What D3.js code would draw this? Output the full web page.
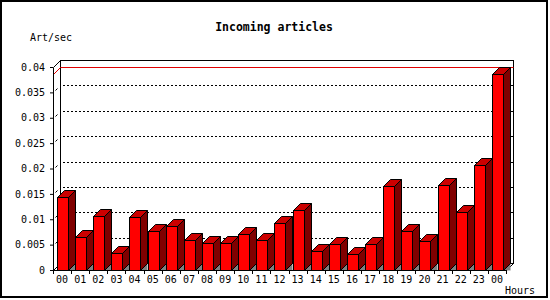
<!DOCTYPE html>
<html>
<head>
<meta charset="utf-8">
<script src="https://cdn.jsdelivr.net/npm/d3@7"></script>
<style>
    body { margin: 0; background: #fff; }
    text { font-family: "DejaVu Sans Mono", monospace; fill: #000; }
</style>
</head>
<body>
<svg id="chart"></svg>
<script>
const hours = ["00", "01", "02", "03", "04", "05", "06", "07", "08", "09", "10", "11",
               "12", "13", "14", "15", "16", "17", "18", "19", "20", "21", "22", "23", "00"];
const artPerSec = [0.0143, 0.0066, 0.0106, 0.0033, 0.0104, 0.0077, 0.0087, 0.0059, 0.0053, 0.0053, 0.0070, 0.0059,
                   0.0092, 0.0118, 0.0037, 0.0051, 0.0031, 0.0051, 0.0165, 0.0076, 0.0057, 0.0167, 0.0114, 0.0206, 0.0386];
const yTicks = [0, 0.005, 0.01, 0.015, 0.02, 0.025, 0.03, 0.035, 0.04];
const yTickLabels = ["0", "0.005", "0.01", "0.015", "0.02", "0.025", "0.03", "0.035", "0.04"];

class Bar3D {

    margin = { top: 67, right: 37, bottom: 30, left: 53 };
    depth = 7;

    constructor(svg) {
        this.svg = d3.select(svg);
        this.width = 550;
        this.height = 300;
    }

    initialize() {
        this.svg.attr("width", this.width).attr("height", this.height);

        this.x = d3.scaleBand()
            .domain(d3.range(hours.length))
            .range([this.margin.left, this.width - this.margin.right - this.depth])
            .padding(0);
        this.y = d3.scaleLinear()
            .domain([0, 0.04])
            .range([this.height - this.margin.bottom, this.margin.top]);

        this.draw();
    }

    draw() {
        const x = this.x, y = this.y, d = this.depth;
        const [x0, x1] = x.range();
        const base = y(0), top = y(0.04);
        const line = pts => "M" + pts.map(p => p.join(",")).join("L") + "Z";

        // frame
        this.svg.append("rect")
            .attr("x", 1).attr("y", 1).attr("width", 546).attr("height", 296)
            .attr("fill", "none").attr("stroke", "#000").attr("stroke-width", 2);

        // back wall
        this.svg.append("rect")
            .attr("x", x0 + d + .5).attr("y", top - d + .5)
            .attr("width", x1 - x0).attr("height", base - top)
            .attr("fill", "#fff").attr("stroke", "#000")
            .attr("shape-rendering", "crispEdges");

        // side wall edges
        this.svg.append("path")
            .attr("d", `M${x0 + .5},${top + .5}L${x0 + d + .5},${top - d + .5}`
                + `M${x0 + .5},${base + .5}L${x0 + d + .5},${base - d + .5}`
                + `M${x1 + .5},${base + .5}L${x1 + d + .5},${base - d + .5}`)
            .attr("stroke", "#000").attr("fill", "none");

        // dotted grid on the back wall
        const grid = yTicks.filter(v => v > 0 && v < 0.04);
        this.svg.append("g")
            .selectAll("line")
            .data(grid)
            .join("line")
            .attr("x1", x0 + d + 3).attr("x2", x1 + d)
            .attr("y1", v => Math.round(y(v)) - d + .5)
            .attr("y2", v => Math.round(y(v)) - d + .5)
            .attr("stroke", "#000")
            .attr("stroke-dasharray", "2,2")
            .attr("shape-rendering", "crispEdges");
        this.svg.append("g")
            .selectAll("path")
            .data(grid)
            .join("path")
            .attr("d", v => `M${x0 + 2.5},${Math.round(y(v)) - 1.5}L${x0 + 4.5},${Math.round(y(v)) - 3.5}`)
            .attr("stroke", "#000");

        // max line
        const maxY = Math.round(y(d3.max(artPerSec)));
        this.svg.append("path")
            .attr("d", `M${x0 + .5},${maxY + .5}L${x0 + d + .5},${maxY - d + .5}L${x1 + d + .5},${maxY - d + .5}`)
            .attr("stroke", "#e00000").attr("fill", "none");

        // bars
        const bars = this.svg.append("g")
            .selectAll("g")
            .data(artPerSec)
            .join("g");

        bars.each(function (v, i) {
            const g = d3.select(this);
            const bx0 = Math.round(x(i) + 4) + .5;
            const bx1 = bx0 + 11;
            const yt = Math.round(y(v)) + .5;
            const yb = base + .5;

            g.append("path")
                .attr("d", line([[bx1, yb], [bx1 + d, yb - d], [bx1 + d, yb]]))
                .attr("fill", "#808080");
            g.append("path")
                .attr("d", line([[bx1, yt], [bx1 + d, yt - d], [bx1 + d, yb - d], [bx1, yb]]))
                .attr("fill", "#800000").attr("stroke", "#000");
            g.append("path")
                .attr("d", line([[bx0, yt], [bx0 + d, yt - d], [bx1 + d, yt - d], [bx1, yt]]))
                .attr("fill", "#cc0000").attr("stroke", "#000");
            g.append("rect")
                .attr("x", bx0).attr("y", yt)
                .attr("width", bx1 - bx0).attr("height", yb - yt)
                .attr("fill", "#ff0000").attr("stroke", "#000");
        });

        // y axis
        const yAxis = this.svg.append("g")
            .attr("transform", `translate(${x0}, 0)`)
            .call(d3.axisLeft(y)
                .tickValues(yTicks)
                .tickFormat((t, i) => yTickLabels[i])
                .tickSize(3)
                .tickSizeOuter(0)
                .tickPadding(5));
        yAxis.attr("font-family", null).attr("font-size", null);
        yAxis.selectAll("text").style("font-size", "10px").attr("fill", "#000");

        // x axis
        const xAxis = this.svg.append("g")
            .attr("transform", `translate(0, ${base})`)
            .call(d3.axisBottom(x)
                .tickFormat(i => hours[i])
                .tickSize(0)
                .tickPadding(6));
        xAxis.attr("font-family", null).attr("font-size", null);
        xAxis.select(".domain").attr("d", `M${x0 + .5},0.5H${x1 + .5}`);
        xAxis.selectAll("text").style("font-size", "10px").attr("fill", "#000");
        xAxis.append("g")
            .selectAll("line")
            .data(d3.range(hours.length + 1))
            .join("line")
            .attr("x1", i => Math.round(x0 + i * x.step()) + .5)
            .attr("x2", i => Math.round(x0 + i * x.step()) + .5)
            .attr("y1", 0).attr("y2", 4)
            .attr("stroke", "#000");

        // titles
        this.svg.append("text")
            .attr("x", 274).attr("y", 31)
            .attr("text-anchor", "middle")
            .style("font-size", "11.5px").style("font-weight", "bold")
            .text("Incoming articles");
        this.svg.append("text")
            .attr("x", 30).attr("y", 41)
            .style("font-size", "10px")
            .text("Art/sec");
        this.svg.append("text")
            .attr("x", 505).attr("y", 294)
            .style("font-size", "10px")
            .text("Hours");
    }
}

const chart = new Bar3D("#chart");
chart.initialize();
</script>
</body>
</html>
